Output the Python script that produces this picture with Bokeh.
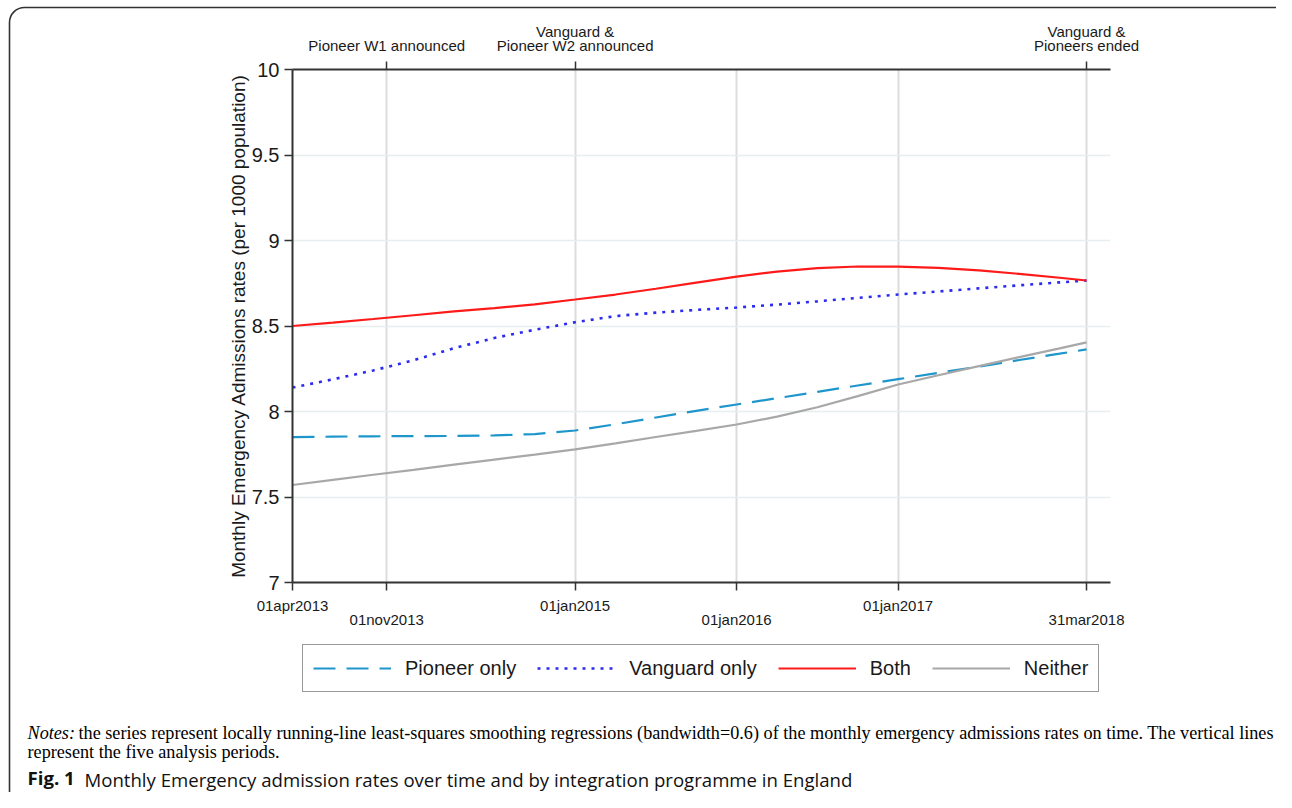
from bokeh.plotting import figure
from bokeh.layouts import column
from bokeh.models import Range1d, LinearAxis, FixedTicker, Legend, LegendItem, Title
from bokeh.embed import file_html
from bokeh.resources import INLINE

# ---- data (month index: 0 = April 2013) ----
months = [0, 3, 6, 9, 12, 15, 18, 21, 24, 27, 30, 33, 36, 39, 42, 45, 48, 51, 54, 57, 59]
pioneer = [7.850, 7.853, 7.855, 7.856, 7.857, 7.860, 7.868, 7.889, 7.925, 7.965, 8.004,
           8.041, 8.078, 8.115, 8.152, 8.189, 8.226, 8.263, 8.301, 8.338, 8.363]
vanguard = [8.140, 8.188, 8.240, 8.300, 8.370, 8.430, 8.478, 8.522, 8.558, 8.578, 8.594,
            8.608, 8.625, 8.644, 8.664, 8.684, 8.702, 8.720, 8.738, 8.755, 8.766]
both = [8.500, 8.520, 8.541, 8.563, 8.585, 8.605, 8.627, 8.655, 8.684, 8.718, 8.754,
        8.789, 8.818, 8.838, 8.848, 8.847, 8.840, 8.825, 8.805, 8.782, 8.766]
neither = [7.570, 7.600, 7.630, 7.659, 7.689, 7.719, 7.748, 7.778, 7.814, 7.851, 7.887,
           7.924, 7.970, 8.025, 8.090, 8.158, 8.212, 8.265, 8.318, 8.369, 8.404]

series_names = ["Pioneer only", "Vanguard only", "Both", "Neither"]
series_colors = ["#1e96cc", "#2b2bf2", "#ff1a1a", "#a8a8a8"]
series_dash = ["22 11", "3 6", "solid", "solid"]
series_widths = [2.2, 2.6, 2.2, 2.2]

bottom_ticks = [0, 7, 21, 33, 45, 59]
bottom_labels = ["01apr2013", "01nov2013", "01jan2015", "01jan2016", "01jan2017", "31mar2018"]
bottom_rows = [0, 1, 0, 1, 0, 1]

top_ticks = [7, 21, 59]
top_line2 = ["Pioneer W1 announced", "Pioneer W2 announced", "Pioneers ended"]
top_line1 = ["", "Vanguard &", "Vanguard &"]

y_ticks = [7, 7.5, 8, 8.5, 9, 9.5, 10]
y_labels = ["7", "7.5", "8", "8.5", "9", "9.5", "10"]
y_title = "Monthly Emergency Admissions rates (per 1000 population)"

notes_italic = "Notes:"
notes_line1 = ("the series represent locally running-line least-squares smoothing regressions "
               "(bandwidth=0.6) of the monthly emergency admissions rates on time. The vertical lines")
notes_line2 = "represent the five analysis periods."
caption_bold = "Fig. 1"
caption_text = "Monthly Emergency admission rates over time and by integration programme in England"

# ---- geometry ----
W, H = 1276, 792
ML, MT, FW, FH = 292, 69, 818, 513
MR = W - ML - FW
AXES_BELOW = 48          # room for the two rows of date labels
LEG_H = 72               # legend strip
X_END = 60.78
Y0, Y1 = 7, 10

SANS = "Liberation Sans"
SERIF = "Liberation Serif"
CAP = "Open Sans"
AX = "#333333"
TXT = "#1a1a1a"

border_svg = ("url(\"data:image/svg+xml;utf8,<svg xmlns='http://www.w3.org/2000/svg' "
              "width='1276' height='792'><rect x='9.5' y='7.5' width='1281' height='798' rx='15' "
              "fill='none' stroke='%23333333' stroke-width='1.6'/></svg>\")")

# ================= main chart =================
p = figure(frame_width=FW, frame_height=FH, x_range=Range1d(0, X_END), y_range=Range1d(Y0, Y1),
           output_backend="svg", toolbar_location=None,
           min_border_left=ML, min_border_top=MT, min_border_right=MR,
           min_border_bottom=AXES_BELOW)
p.outline_line_color = None
p.background_fill_color = "white"
p.border_fill_color = None

p.xgrid.ticker = FixedTicker(ticks=bottom_ticks)
p.xgrid.grid_line_color = "#dcdcdc"
p.xgrid.grid_line_width = 2
p.ygrid.ticker = FixedTicker(ticks=y_ticks)
p.ygrid.grid_line_color = "#e5eef0"
p.ygrid.grid_line_width = 1.5


def style_axis(a, tick_out, line=True):
    a.major_tick_out = tick_out
    a.major_tick_in = 0
    a.minor_tick_out = 0
    a.minor_tick_in = 0
    a.axis_line_color = AX if line else None
    a.axis_line_width = 2
    a.major_tick_line_color = AX if tick_out else None
    a.major_tick_line_width = 1.5
    a.major_label_text_font = SANS
    a.major_label_text_color = TXT


xa = p.xaxis[0]
xa.ticker = FixedTicker(ticks=bottom_ticks)
xa.major_label_overrides = {t: (l if r == 0 else "") for t, l, r in
                            zip(bottom_ticks, bottom_labels, bottom_rows)}
style_axis(xa, 8)
xa.major_label_text_font_size = "15px"
xa.major_label_standoff = 6

row2 = [t for t, r in zip(bottom_ticks, bottom_rows) if r == 1]
xb = LinearAxis(ticker=FixedTicker(ticks=row2),
                major_label_overrides={t: l for t, l, r in
                                       zip(bottom_ticks, bottom_labels, bottom_rows) if r == 1})
style_axis(xb, 0, line=False)
xb.major_label_text_font_size = "15px"
xb.major_label_standoff = -6
p.add_layout(xb, "below")

ta = LinearAxis(ticker=FixedTicker(ticks=top_ticks),
                major_label_overrides={t: l for t, l in zip(top_ticks, top_line2)})
style_axis(ta, 8)
ta.major_label_text_font_size = "15px"
ta.major_label_standoff = 8
p.add_layout(ta, "above")

tb_ticks = [t for t, l in zip(top_ticks, top_line1) if l]
tb = LinearAxis(ticker=FixedTicker(ticks=tb_ticks),
                major_label_overrides={t: l for t, l in zip(top_ticks, top_line1) if l})
style_axis(tb, 0, line=False)
tb.major_label_text_font_size = "15px"
tb.major_label_standoff = -6
p.add_layout(tb, "above")

ya = p.yaxis[0]
ya.ticker = FixedTicker(ticks=y_ticks)
ya.major_label_overrides = {t: l for t, l in zip(y_ticks, y_labels)}
style_axis(ya, 8)
ya.major_label_text_font_size = "20px"
ya.major_label_standoff = 5
ya.axis_label = y_title
ya.axis_label_text_font = SANS
ya.axis_label_text_font_size = "19px"
ya.axis_label_text_font_style = "normal"
ya.axis_label_text_color = TXT
ya.axis_label_standoff = 0

series_values = [pioneer, vanguard, both, neither]
for vals, c, d, w in zip(series_values, series_colors, series_dash, series_widths):
    p.line(months, vals, line_color=c, line_width=w, line_dash=d)

# ================= legend strip + notes =================
q = figure(frame_width=FW, frame_height=LEG_H, x_range=Range1d(0, 1), y_range=Range1d(0, 1),
           output_backend="svg", toolbar_location=None,
           x_axis_location=None, y_axis_location=None,
           min_border_left=ML, min_border_right=MR, min_border_top=0,
           min_border_bottom=H - MT - FH - AXES_BELOW - LEG_H)
q.grid.visible = False
q.outline_line_color = None
q.background_fill_color = None
q.border_fill_color = None

# legend keys: the same series, styled alike; they lie outside this strip's view
keys = [q.line(months, vals, line_color=c, line_width=w, line_dash=d)
        for vals, c, d, w in zip(series_values, series_colors, series_dash, series_widths)]
legend = Legend(items=[LegendItem(label=n, renderers=[r]) for n, r in zip(series_names, keys)],
                orientation="horizontal", location=(10, 10))
legend.label_text_font = SANS
legend.label_text_font_size = "20px"
legend.label_text_color = TXT
legend.glyph_width = 78
legend.glyph_height = 26
legend.label_standoff = 14
legend.spacing = 21
legend.padding = 10
legend.margin = 0
legend.border_line_color = "#333333"
legend.border_line_width = 1.5
q.add_layout(legend)


def spacer(height):
    q.add_layout(Title(text=" ", text_font_size="1px", standoff=height - 3), "below")


def row_text(text, offset, font, size, style, valign, h_est, color="black"):
    q.add_layout(Title(text=text, align="left", vertical_align=valign, offset=offset,
                       text_font=font, text_font_size=size, text_font_style=style,
                       text_color=color, standoff=-h_est), "below")


# "Notes:" sits at the bottom of its panel, the rest of the line at the top of the next one
spacer(28)
row_text(notes_italic, 27 - ML, SERIF, "18.2px", "italic", "bottom", 20)
row_text(notes_line1, 78 - ML, SERIF, "18.2px", "normal", "top", 20)
spacer(16)
row_text(notes_line2, 27 - ML, SERIF, "18.2px", "normal", "middle", 19)
spacer(21)
row_text(caption_bold, 27 - ML, CAP, "18.6px", "bold", "bottom", 23.5, "#111111")
row_text(caption_text, 84 - ML, CAP, "18.6px", "normal", "top", 23.5, "#111111")

layout = column(p, q, styles={"background-color": "white", "background-image": border_svg,
                              "background-repeat": "no-repeat"})

open("out.html", "w").write(file_html(layout, INLINE))
